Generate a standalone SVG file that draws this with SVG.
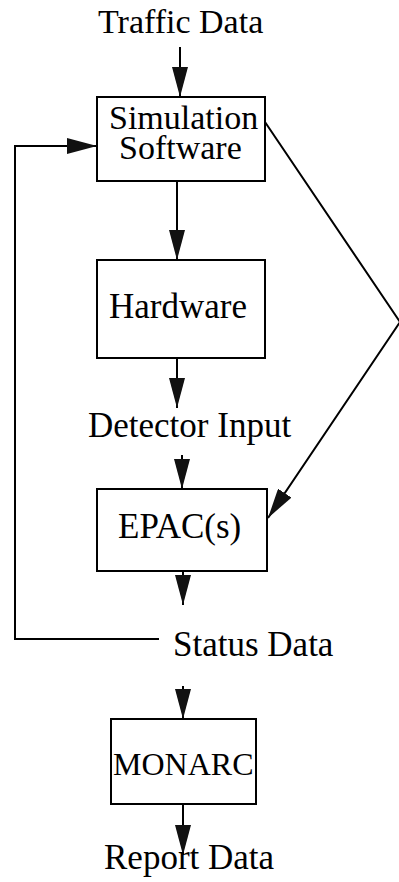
<svg xmlns="http://www.w3.org/2000/svg" width="399" height="882" viewBox="0 0 399 882">
  <style>
    .box { fill: #ffffff; stroke: #000000; stroke-width: 2; }
    .lbl { font-family: "Liberation Serif", "Times New Roman", serif; font-size: 35px; fill: #000000; }
    .conn { fill: none; stroke: #000000; stroke-width: 2; }
  </style>
  <defs>
    <marker id="ah" markerUnits="userSpaceOnUse" markerWidth="32" markerHeight="16" refX="30" refY="8" orient="auto">
      <path d="M0,0 L30,8 L0,16 Z" fill="#111111"/>
    </marker>
  </defs>
  <rect x="0" y="0" width="399" height="882" fill="#ffffff"/>

  <g id="connectors">
    <line class="conn" x1="180" y1="47" x2="180" y2="97" marker-end="url(#ah)"/>
    <line class="conn" x1="177" y1="181" x2="177" y2="260" marker-end="url(#ah)"/>
    <line class="conn" x1="177" y1="358" x2="177" y2="408" marker-end="url(#ah)"/>
    <line class="conn" x1="182" y1="455" x2="182" y2="489" marker-end="url(#ah)"/>
    <line class="conn" x1="183" y1="571" x2="183" y2="605" marker-end="url(#ah)"/>
    <line class="conn" x1="183" y1="686" x2="183" y2="719" marker-end="url(#ah)"/>
    <line class="conn" x1="183" y1="804" x2="183" y2="855" marker-end="url(#ah)"/>
    <path class="conn" d="M159,639 L15,639 L15,146 L97,146" marker-end="url(#ah)"/>
    <path class="conn" d="M265,122 L400,322 L268,518" marker-end="url(#ah)"/>
  </g>

  <g id="traffic-data">
    <text class="lbl" x="98" y="33" style="font-size:34px">Traffic Data</text>
  </g>
  <g id="simulation-software">
    <rect class="box" x="97" y="97" width="168" height="84"/>
    <text class="lbl" x="109" y="129" style="font-size:34px">Simulation</text>
    <text class="lbl" x="119" y="159" style="font-size:34px">Software</text>
  </g>
  <g id="hardware">
    <rect class="box" x="97" y="260" width="168" height="98"/>
    <text class="lbl" x="109" y="318">Hardware</text>
  </g>
  <g id="detector-input">
    <text class="lbl" x="88" y="437">Detector Input</text>
  </g>
  <g id="epacs">
    <rect class="box" x="97" y="489" width="170" height="82"/>
    <text class="lbl" x="118" y="538">EPAC(s)</text>
  </g>
  <g id="status-data">
    <text class="lbl" x="173" y="656">Status Data</text>
  </g>
  <g id="monarc">
    <rect class="box" x="111" y="719" width="145" height="85"/>
    <text class="lbl" x="113" y="775" style="font-size:32px">MONARC</text>
  </g>
  <g id="report-data">
    <text class="lbl" x="104" y="869">Report Data</text>
  </g>
</svg>
